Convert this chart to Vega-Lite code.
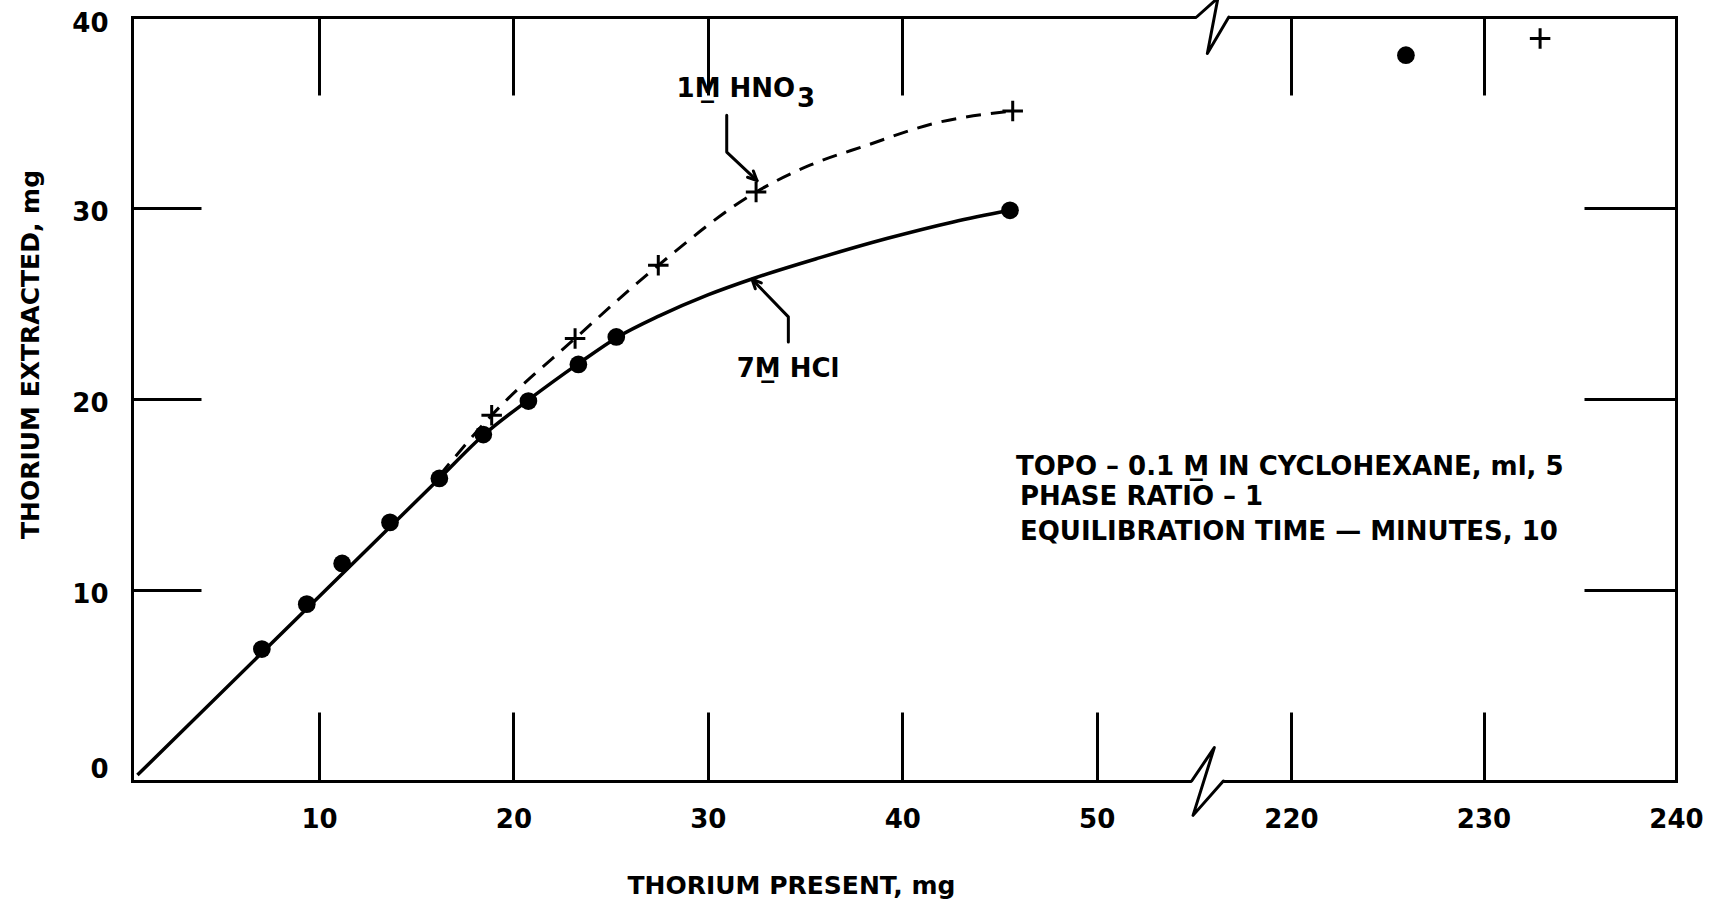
{
  "$schema": "https://vega.github.io/schema/vega-lite/v6.json",
  "width": 1544,
  "height": 764,
  "autosize": {"type": "none"},
  "padding": {"left": 132, "top": 17, "right": 36, "bottom": 124},
  "background": "white",
  "config": {"view": {"stroke": null}, "font": "DejaVu Sans"},
  "datasets": {
    "hcl": [
      {"x": 7.06, "y": 6.91}, {"x": 9.37, "y": 9.26}, {"x": 11.19, "y": 11.39},
      {"x": 13.65, "y": 13.54}, {"x": 16.19, "y": 15.84}, {"x": 18.45, "y": 18.14},
      {"x": 20.77, "y": 19.89}, {"x": 23.34, "y": 21.81}, {"x": 25.29, "y": 23.25},
      {"x": 45.54, "y": 29.88}, {"x": 225.97, "y": 38.0}
    ],
    "hno3": [
      {"x": 18.88, "y": 19.15}, {"x": 23.17, "y": 23.17}, {"x": 27.45, "y": 27.0},
      {"x": 32.48, "y": 30.84}, {"x": 45.68, "y": 35.08}, {"x": 232.94, "y": 38.87}
    ],
    "curve_hcl": [
      {"x": 0.66, "y": 0.31}, {"x": 16.19, "y": 15.84}, {"x": 18.45, "y": 18.1},
      {"x": 20.77, "y": 19.95}, {"x": 23.34, "y": 21.85}, {"x": 25.29, "y": 23.2},
      {"x": 27.5, "y": 24.35}, {"x": 30.0, "y": 25.45}, {"x": 32.34, "y": 26.31},
      {"x": 35.77, "y": 27.4}, {"x": 39.2, "y": 28.4}, {"x": 42.62, "y": 29.27},
      {"x": 45.54, "y": 29.88}
    ],
    "curve_hno3": [
      {"x": 16.2, "y": 16.0}, {"x": 18.88, "y": 19.15}, {"x": 23.17, "y": 23.17},
      {"x": 27.45, "y": 27.0}, {"x": 32.48, "y": 30.84}, {"x": 35.25, "y": 32.24},
      {"x": 38.17, "y": 33.28}, {"x": 41.6, "y": 34.42}, {"x": 45.68, "y": 35.08}
    ],
    "paths": [
      {"path": "breakTop", "i": 0, "x": 137.4, "y": 40},
      {"path": "breakTop", "i": 1, "x": 156.1, "y": 41.0},
      {"path": "breakTop", "i": 2, "x": 146.8, "y": 38.09},
      {"path": "breakTop", "i": 3, "x": 165.6, "y": 40},
      {"path": "breakBottom", "i": 0, "x": 133.1, "y": 0},
      {"path": "breakBottom", "i": 1, "x": 152.9, "y": 1.75},
      {"path": "breakBottom", "i": 2, "x": 134.3, "y": -1.8},
      {"path": "breakBottom", "i": 3, "x": 160.8, "y": 0},
      {"path": "leaderHNO3", "i": 0, "x": 30.97, "y": 34.85},
      {"path": "leaderHNO3", "i": 1, "x": 30.97, "y": 32.93},
      {"path": "leaderHNO3", "i": 2, "x": 32.53, "y": 31.43},
      {"path": "headHNO3", "i": 0, "x": 32.04, "y": 31.61},
      {"path": "headHNO3", "i": 1, "x": 32.53, "y": 31.43},
      {"path": "headHNO3", "i": 2, "x": 32.34, "y": 31.94},
      {"path": "leaderHCl", "i": 0, "x": 34.14, "y": 22.99},
      {"path": "leaderHCl", "i": 1, "x": 34.14, "y": 24.30},
      {"path": "leaderHCl", "i": 2, "x": 32.27, "y": 26.27},
      {"path": "headHCl", "i": 0, "x": 32.75, "y": 26.08},
      {"path": "headHCl", "i": 1, "x": 32.27, "y": 26.27},
      {"path": "headHCl", "i": 2, "x": 32.44, "y": 25.77}
    ],
    "gaps": [
      {"x": 137.4, "x2": 165.6, "y": 40},
      {"x": 133.1, "x2": 160.8, "y": 0}
    ],
    "notes": [
      {"label": "1M̲ HNO", "x": 28.39, "y": 35.83},
      {"label": "3", "x": 34.58, "y": 35.30},
      {"label": "7M̲ HCl", "x": 31.48, "y": 21.17},
      {"label": "TOPO – 0.1 M̲ IN CYCLOHEXANE, ml, 5", "x": 45.85, "y": 16.02},
      {"label": "PHASE RATIO – 1", "x": 46.05, "y": 14.45},
      {"label": "EQUILIBRATION TIME — MINUTES, 10", "x": 46.05, "y": 12.62}
    ]
  },
  "encoding": {
    "x": {"field": "x", "type": "quantitative", "scale": {"domain": [0.38, 50, 220, 240], "range": [0, 964.7, 1159, 1544], "nice": false, "zero": false}, "axis": null},
    "y": {"field": "y", "type": "quantitative", "scale": {"domain": [0, 40], "nice": false, "zero": false}, "axis": null}
  },
  "resolve": {"axis": {"x": "independent", "y": "independent"}},
  "layer": [
    {
      "data": {"name": "gaps"},
      "mark": {"type": "rule", "color": "white", "strokeWidth": 7, "strokeCap": "butt"},
      "encoding": {"x2": {"field": "x2"}}
    },
    {
      "data": {"name": "paths"},
      "mark": {"type": "line", "color": "black", "strokeWidth": 3, "strokeCap": "round", "strokeJoin": "round"},
      "encoding": {"detail": {"field": "path"}, "order": {"field": "i", "type": "quantitative"}}
    },
    {
      "data": {"name": "curve_hcl"},
      "mark": {"type": "line", "color": "black", "strokeWidth": 3.5, "interpolate": "monotone"}
    },
    {
      "data": {"name": "curve_hno3"},
      "mark": {"type": "line", "color": "black", "strokeWidth": 3, "interpolate": "monotone", "strokeDash": [15, 10]}
    },
    {
      "data": {"name": "hcl"},
      "mark": {"type": "point", "shape": "circle", "filled": true, "color": "black", "opacity": 1, "size": 314},
      "encoding": {
        "x": {"field": "x", "type": "quantitative",
          "scale": {"domain": [0.38, 50, 220, 240], "range": [0, 964.7, 1159, 1544], "nice": false, "zero": false},
          "axis": {
            "orient": "bottom", "values": [10, 20, 30, 40, 50, 220, 230, 240], "format": "d",
            "tickSize": -69, "tickWidth": 3, "tickColor": "black",
            "domain": true, "domainWidth": 3, "domainColor": "black", "domainCap": "square", "grid": false,
            "labelFont": "DejaVu Sans", "labelFontSize": 26, "labelFontWeight": "bold", "labelColor": "black",
            "labelPadding": 94.4, "labelFlush": false, "labelOverlap": false,
            "title": "THORIUM PRESENT, mg", "titleFont": "DejaVu Sans", "titleFontSize": 25, "titleFontWeight": "bold",
            "titleColor": "black", "titleX": 659, "titleY": 112, "titleAlign": "center", "titleBaseline": "alphabetic"
          }
        },
        "y": {"field": "y", "type": "quantitative",
          "scale": {"domain": [0, 40], "nice": false, "zero": false},
          "axis": {
            "orient": "left", "values": [0, 10, 20, 30, 40], "format": "d",
            "tickSize": -69, "tickWidth": 3, "tickColor": "black",
            "domain": true, "domainWidth": 3, "domainColor": "black", "domainCap": "square", "grid": false,
            "labelFont": "DejaVu Sans", "labelFontSize": 26, "labelFontWeight": "bold", "labelColor": "black",
            "labelPadding": 93, "labelAlign": "right", "labelBaseline": "middle", "labelFlush": false, "labelOverlap": false,
            "labelOffset": {"condition": [{"test": "datum.value === 0", "value": -12}, {"test": "datum.value === 40", "value": 6}], "value": 4.5},
            "title": "THORIUM EXTRACTED, mg", "titleFont": "DejaVu Sans", "titleFontSize": 25, "titleFontWeight": "bold",
            "titleColor": "black", "titleAngle": 270, "titleX": -102, "titleY": 337, "titleAlign": "center", "titleBaseline": "middle"
          }
        }
      }
    },
    {
      "data": {"name": "hno3"},
      "mark": {"type": "point", "shape": "M-1,0H1M0,-1V1", "filled": false, "color": "black", "opacity": 1, "strokeWidth": 3, "size": 420},
      "encoding": {
        "x": {"field": "x", "type": "quantitative",
          "scale": {"domain": [0.38, 50, 220, 240], "range": [0, 964.7, 1159, 1544], "nice": false, "zero": false},
          "axis": {
            "orient": "top", "values": [10, 20, 30, 40, 220, 230],
            "tickSize": -78, "tickWidth": 3, "tickColor": "black",
            "domain": true, "domainWidth": 3, "domainColor": "black", "domainCap": "square", "grid": false,
            "labels": false, "title": null
          }
        },
        "y": {"field": "y", "type": "quantitative",
          "scale": {"domain": [0, 40], "nice": false, "zero": false},
          "axis": {
            "orient": "right", "values": [10, 20, 30],
            "tickSize": -92, "tickWidth": 3, "tickColor": "black",
            "domain": true, "domainWidth": 3, "domainColor": "black", "domainCap": "square", "grid": false,
            "labels": false, "title": null
          }
        }
      }
    },
    {
      "data": {"name": "notes"},
      "mark": {"type": "text", "align": "left", "baseline": "alphabetic", "font": "DejaVu Sans", "fontSize": 26, "fontWeight": "bold", "color": "black"},
      "encoding": {"text": {"field": "label"}}
    }
  ]
}
